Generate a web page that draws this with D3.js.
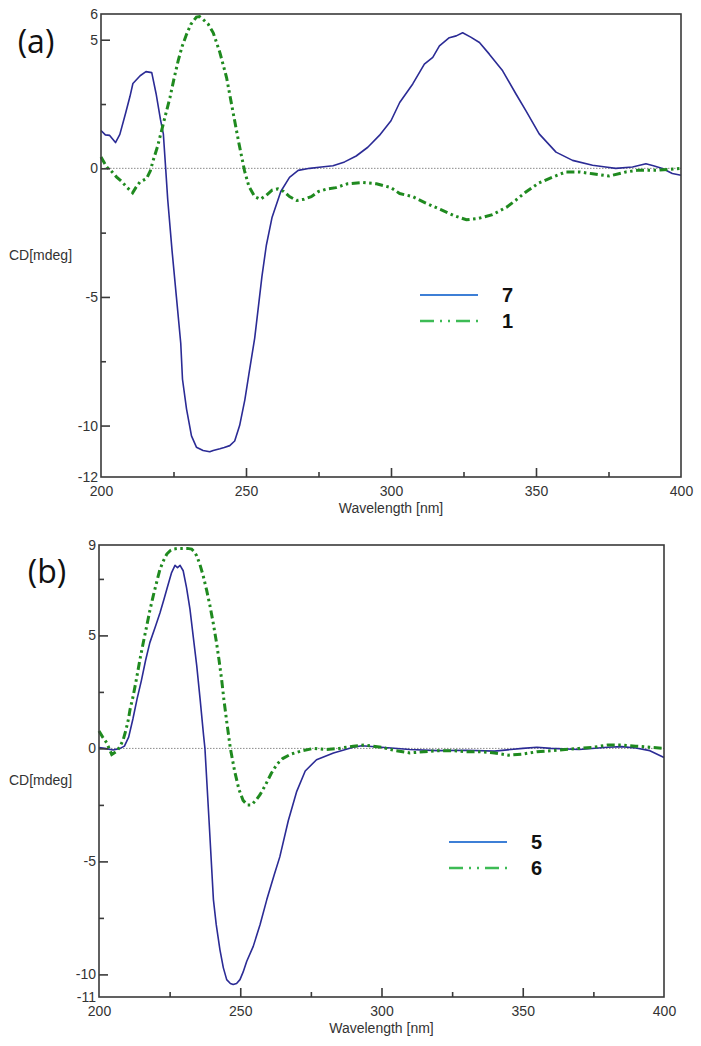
<!DOCTYPE html>
<html>
<head>
<meta charset="utf-8">
<script src="https://cdn.jsdelivr.net/npm/d3@7/dist/d3.min.js"></script>
<style>
  html, body { margin: 0; padding: 0; background: #fff; }
  svg { display: block; }
</style>
</head>
<body>
<svg id="chart" width="701" height="1046"></svg>
<script>
// ---------------- DATA ----------------
// Panel (a), compound 7 (solid blue)
const waveA7 = [200,201.5,203,205,206.5,208.5,210,211,213.5,215.5,217.5,219,220.5,221.5,222.3,223,224.5,226,227.5,228.1,229.5,231.2,232.9,235.2,237.5,238.7,241,242.5,244.4,246.1,247.8,249.6,251,253,255.5,257,259,262,265,268,272,276,280,284,288,292,296,300,303,307.5,311.5,314.4,316.7,320.1,322.5,324.7,327.5,330.5,333.9,338.5,343.1,346.5,351.1,356.9,362.6,369.5,374,377.5,383.3,387.9,390.5,393.6,397,400];
const cdA7   = [1.47,1.3,1.28,1.0,1.32,2.15,2.8,3.3,3.6,3.76,3.72,2.9,1.9,1.34,0.0,-1.2,-3.2,-5.0,-6.8,-8.2,-9.36,-10.4,-10.84,-10.97,-11.02,-10.97,-10.9,-10.85,-10.78,-10.6,-10.0,-9.0,-8.0,-6.6,-4.2,-3.0,-1.9,-0.9,-0.35,-0.08,0.0,0.05,0.1,0.25,0.48,0.82,1.28,1.85,2.56,3.28,4.05,4.31,4.76,5.08,5.15,5.27,5.1,4.89,4.44,3.79,2.89,2.24,1.34,0.63,0.31,0.12,0.05,0.0,0.05,0.18,0.1,-0.01,-0.2,-0.27];
// Panel (a), compound 1 (green dash-dot)
const waveA1 = [200,202,203.5,205.4,207,208.8,210.9,212,213.4,215.7,217,218,219.5,220.9,222.3,223.8,225.2,226.6,228,229.5,231,232.9,234,235.2,237,238.7,241,243.3,245.5,247.6,249.5,251,253,255,257,259,261,263,265,267.5,270,272.5,275,278,281,285,290,295,300,303,307.5,312,317,322,326,330,335,340,343,346.5,351,355.7,360.3,364.9,369.5,375.2,381,385.6,392.5,400];
const cdA1   = [0.44,0.05,-0.1,-0.34,-0.5,-0.72,-0.95,-0.75,-0.53,-0.4,-0.1,0.31,0.85,1.47,2.1,2.76,3.5,4.18,4.75,5.21,5.6,5.88,5.9,5.79,5.6,5.27,4.5,3.53,2.2,0.95,-0.1,-0.7,-1.1,-1.2,-1.05,-0.85,-0.8,-0.9,-1.1,-1.25,-1.2,-1.1,-0.9,-0.8,-0.75,-0.6,-0.55,-0.6,-0.75,-0.98,-1.1,-1.35,-1.6,-1.85,-2.0,-1.95,-1.8,-1.5,-1.24,-0.92,-0.57,-0.34,-0.14,-0.14,-0.21,-0.3,-0.14,-0.07,-0.07,0.0];
// Panel (b), compound 5 (solid blue)
const waveB5 = [200,202,205,207.5,209,210.5,212,213.5,215,216.5,218,220,221.6,223,224,225.7,226.9,227.8,228.7,229.8,231,232.2,233.4,234.6,235.8,237,237.5,239,240.5,241.5,242.8,244,245.2,246.5,247.5,248.7,249.9,251,252.3,254.6,257,259.4,262,264,267,270,273,277,283,290,293,300,310,320,330,340,350,355,360,370,380,385,390,395,400];
const cdB5   = [0.04,0.0,-0.07,0.0,0.1,0.5,1.3,2.2,3.0,3.9,4.68,5.4,6.0,6.6,7.04,7.78,8.1,8.0,8.1,7.86,7.1,6.16,4.9,3.65,2.17,0.6,0.0,-3.3,-6.69,-7.8,-8.9,-9.7,-10.23,-10.4,-10.45,-10.4,-10.23,-9.9,-9.42,-8.76,-7.8,-6.69,-5.6,-4.8,-3.2,-1.9,-1.0,-0.5,-0.2,0.05,0.12,0.05,-0.05,-0.1,-0.08,-0.12,0.0,0.05,0.0,-0.05,0.05,0.08,0.02,-0.1,-0.4];
// Panel (b), compound 6 (green dash-dot)
const waveB6 = [200,201.3,202.7,204.5,206.3,207.5,208.6,209.5,210.4,211,212.1,213.3,214.5,215.7,216.9,218,219.2,220.4,221.6,222.8,224,225.2,226.3,228,229.8,231.3,232.8,233.7,234.6,235.7,236.9,238.1,239.3,240.5,241.6,242.5,243.4,244.2,245.3,246.5,248,249.5,251,252.5,254,255.5,257,259,261,263,265,268,272,276,280,285,290,294,300,305,310,315,320,325,330,335,340,345,350,355,360,365,370,375,380,385,390,395,400];
const cdB6   = [0.77,0.5,0.25,-0.27,-0.12,0.1,0.4,0.8,1.28,1.73,2.32,3.1,3.94,4.7,5.42,6.1,6.75,7.35,7.93,8.3,8.6,8.75,8.82,8.85,8.85,8.85,8.82,8.7,8.52,8.15,7.63,7.0,6.3,5.5,4.68,3.9,3.06,2.17,1.1,0.0,-1.0,-1.8,-2.3,-2.5,-2.5,-2.3,-2.05,-1.6,-1.1,-0.7,-0.45,-0.25,-0.1,0.0,-0.05,0.0,0.1,0.15,0.05,-0.1,-0.2,-0.15,-0.1,-0.1,-0.15,-0.15,-0.2,-0.3,-0.25,-0.15,-0.1,-0.05,0.0,0.05,0.15,0.15,0.1,0.05,0.0];

// Ticks
const xTickLabels = [200, 250, 300, 350, 400];
const xMajorMarks = [250, 300, 350];
const xMinorMarks = [225, 275, 325, 375];
const yLabelsA = [6, 5, 0, -5, -10, -12];
const yMajorA = [5, 0, -5, -10];
const yMinorA = [2.5, -2.5, -7.5];
const yLabelsB = [9, 5, 0, -5, -10, -11];
const yMajorB = [5, 0, -5, -10];
const yMinorB = [7.5, 2.5, -2.5, -7.5];
const legendA = ["7", "1"];
const legendB = ["5", "6"];

// ---------------- DRAW ----------------
const svg = d3.select("#chart");
const BLUE = "#2b2b95", GREEN = "#1f8a1f";
const LBLUE = "#3d7fd6", LGREEN = "#3dbb55";
const plainNum = d => String(d);

function drawPanel(p) {
  const x = d3.scaleLinear().domain([200, 400]).range([p.left, p.right]);
  const y = d3.scaleLinear().domain(p.yDomain).range([p.bottom, p.top]);
  const g = svg.append("g");

  // zero line
  g.append("line")
    .attr("x1", x(200)).attr("x2", x(400)).attr("y1", y(0)).attr("y2", y(0))
    .attr("stroke", "#8a8a8a").attr("stroke-width", 1).attr("stroke-dasharray", "1.5,1.5");

  const line = d3.line().x(d => x(d[0])).y(d => y(d[1]));
  const green = d3.zip(p.wg, p.vg);
  const blue = d3.zip(p.wb, p.vb);
  g.append("path").datum(blue).attr("d", line)
    .attr("fill", "none").attr("stroke", BLUE).attr("stroke-width", 1.6).attr("stroke-linejoin", "round");
  g.append("path").datum(green).attr("d", line)
    .attr("fill", "none").attr("stroke", GREEN).attr("stroke-width", 3)
    .attr("stroke-dasharray", "8,3.5,2.5,3.5,2.5,3.5");

  // frame
  g.append("rect").attr("x", p.left).attr("y", p.top)
    .attr("width", p.right - p.left).attr("height", p.bottom - p.top)
    .attr("fill", "none").attr("stroke", "#3a3a3a").attr("stroke-width", 1.6);

  const styleAxis = sel => {
    sel.select(".domain").remove();
    sel.selectAll("line").attr("stroke", "#3a3a3a").attr("stroke-width", 1.6);
    sel.selectAll("text").attr("fill", "#333").attr("font-size", 14)
      .attr("font-family", "'Liberation Sans', Arial, sans-serif");
  };

  // y ticks
  g.append("g").attr("transform", `translate(${p.left},0)`)
    .call(d3.axisLeft(y).tickValues(p.yMajor).tickSize(-9).tickFormat(""))
    .call(styleAxis);
  g.append("g").attr("transform", `translate(${p.left},0)`)
    .call(d3.axisLeft(y).tickValues(p.yMinor).tickSize(-5).tickFormat(""))
    .call(styleAxis);
  g.append("g").attr("transform", `translate(${p.left},0)`)
    .call(d3.axisLeft(y).tickValues(p.yLabels).tickSize(0).tickPadding(3).tickFormat(plainNum))
    .call(styleAxis);

  // x ticks
  g.append("g").attr("transform", `translate(0,${p.bottom})`)
    .call(d3.axisBottom(x).tickValues(xMajorMarks).tickSize(-9).tickFormat(""))
    .call(styleAxis);
  g.append("g").attr("transform", `translate(0,${p.bottom})`)
    .call(d3.axisBottom(x).tickValues(xMinorMarks).tickSize(-5).tickFormat(""))
    .call(styleAxis);
  g.append("g").attr("transform", `translate(0,${p.bottom})`)
    .call(d3.axisBottom(x).tickValues(xTickLabels).tickSize(0).tickPadding(9).tickFormat(plainNum))
    .call(styleAxis);

  // axis titles
  g.append("text").attr("x", x(300)).attr("y", p.bottom + 36)
    .attr("text-anchor", "middle").attr("font-size", 14).attr("fill", "#333")
    .attr("font-family", "'Liberation Sans', Arial, sans-serif")
    .text("Wavelength [nm]");
  g.append("text").attr("x", 9).attr("y", p.ylabelY)
    .attr("font-size", 14).attr("fill", "#333")
    .attr("font-family", "'Liberation Sans', Arial, sans-serif")
    .text("CD[mdeg]");

  // panel letter
  g.append("text").attr("x", p.letterX).attr("y", p.letterY)
    .attr("text-anchor", "middle").attr("font-size", 32).attr("fill", "#111")
    .attr("font-family", "'Open Sans', 'Noto Sans', sans-serif")
    .text(p.letter);

  // legend
  const lg = g.append("g");
  lg.append("line").attr("x1", p.legX).attr("x2", p.legX + 58)
    .attr("y1", p.legY).attr("y2", p.legY)
    .attr("stroke", LBLUE).attr("stroke-width", 2);
  lg.append("line").attr("x1", p.legX).attr("x2", p.legX + 58)
    .attr("y1", p.legY + 26).attr("y2", p.legY + 26)
    .attr("stroke", LGREEN).attr("stroke-width", 2.5).attr("stroke-dasharray", "14,6,2,6,2,6");
  p.legend.forEach((t, i) => {
    lg.append("text").attr("x", p.legX + 82).attr("y", p.legY + i * 26 + 7)
      .attr("font-size", 20).attr("font-weight", "bold").attr("fill", "#111")
      .attr("font-family", "'Liberation Sans', Arial, sans-serif")
      .text(t);
  });
}

drawPanel({
  left: 101, right: 681, top: 14, bottom: 477, yDomain: [-12, 6],
  yLabels: yLabelsA, yMajor: yMajorA, yMinor: yMinorA,
  wb: waveA7, vb: cdA7, wg: waveA1, vg: cdA1,
  ylabelY: 260, letter: "(a)", letterX: 36, letterY: 53,
  legX: 420, legY: 295, legend: legendA
});
drawPanel({
  left: 99, right: 664, top: 545, bottom: 997, yDomain: [-11, 9],
  yLabels: yLabelsB, yMajor: yMajorB, yMinor: yMinorB,
  wb: waveB5, vb: cdB5, wg: waveB6, vg: cdB6,
  ylabelY: 785, letter: "(b)", letterX: 47, letterY: 583,
  legX: 449, legY: 842, legend: legendB
});
</script>
</body>
</html>
